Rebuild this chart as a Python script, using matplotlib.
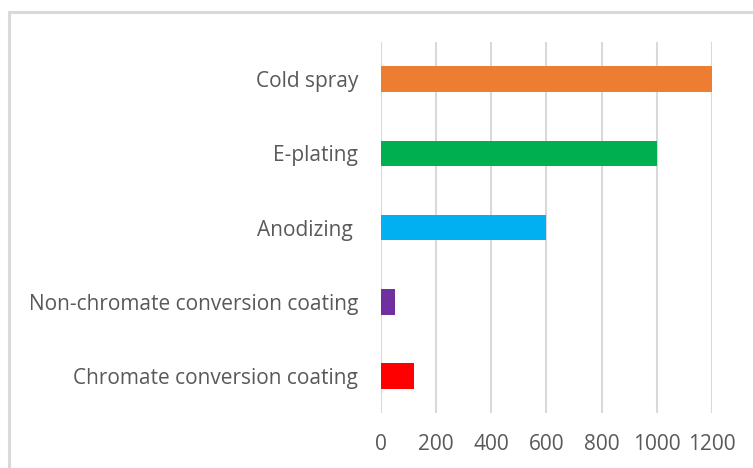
import matplotlib
matplotlib.use("Agg")
import matplotlib.pyplot as plt
from matplotlib.patches import Rectangle

categories = ["Chromate conversion coating", "Non-chromate conversion coating",
              "Anodizing ", "E-plating", "Cold spray"]
values = [120, 50, 600, 1000, 1200]
colors = ["#FF0000", "#7030A0", "#00B0F0", "#00B050", "#ED7D31"]
xticks = [0, 200, 400, 600, 800, 1000, 1200]

plt.rcParams["font.family"] = ["Open Sans", "DejaVu Sans"]
text_color = "#595959"

fig = plt.figure(figsize=(7.53, 4.68), dpi=100)
ax = fig.add_axes([0.506, 0.1175, 0.4395, 0.7925])

# chart area outline
fig.patches.append(Rectangle((9 / 753, -0.1), 1.2, (468 - 12) / 468 + 0.1,
                             transform=fig.transFigure, fill=False,
                             edgecolor="#d9d9d9", linewidth=2.2, zorder=0))

ypos = range(len(categories))
ax.barh(ypos, values, height=0.345, color=colors, zorder=3)

ax.set_xlim(0, 1200)
ax.set_ylim(-0.5, len(categories) - 0.5)
ax.set_xticks(xticks)
ax.set_xticklabels([str(t) for t in xticks])
ax.set_yticks(list(ypos))
ax.set_yticklabels(categories)
ax.xaxis.grid(True, color="#d9d9d9", linewidth=1.5, zorder=0)
ax.set_axisbelow(True)
for s in ax.spines.values():
    s.set_visible(False)
ax.tick_params(axis="both", length=0, colors=text_color, labelsize=15)
ax.tick_params(axis="x", pad=15)
ax.tick_params(axis="y", pad=16.5)

fig.savefig("out.png", dpi=100)
